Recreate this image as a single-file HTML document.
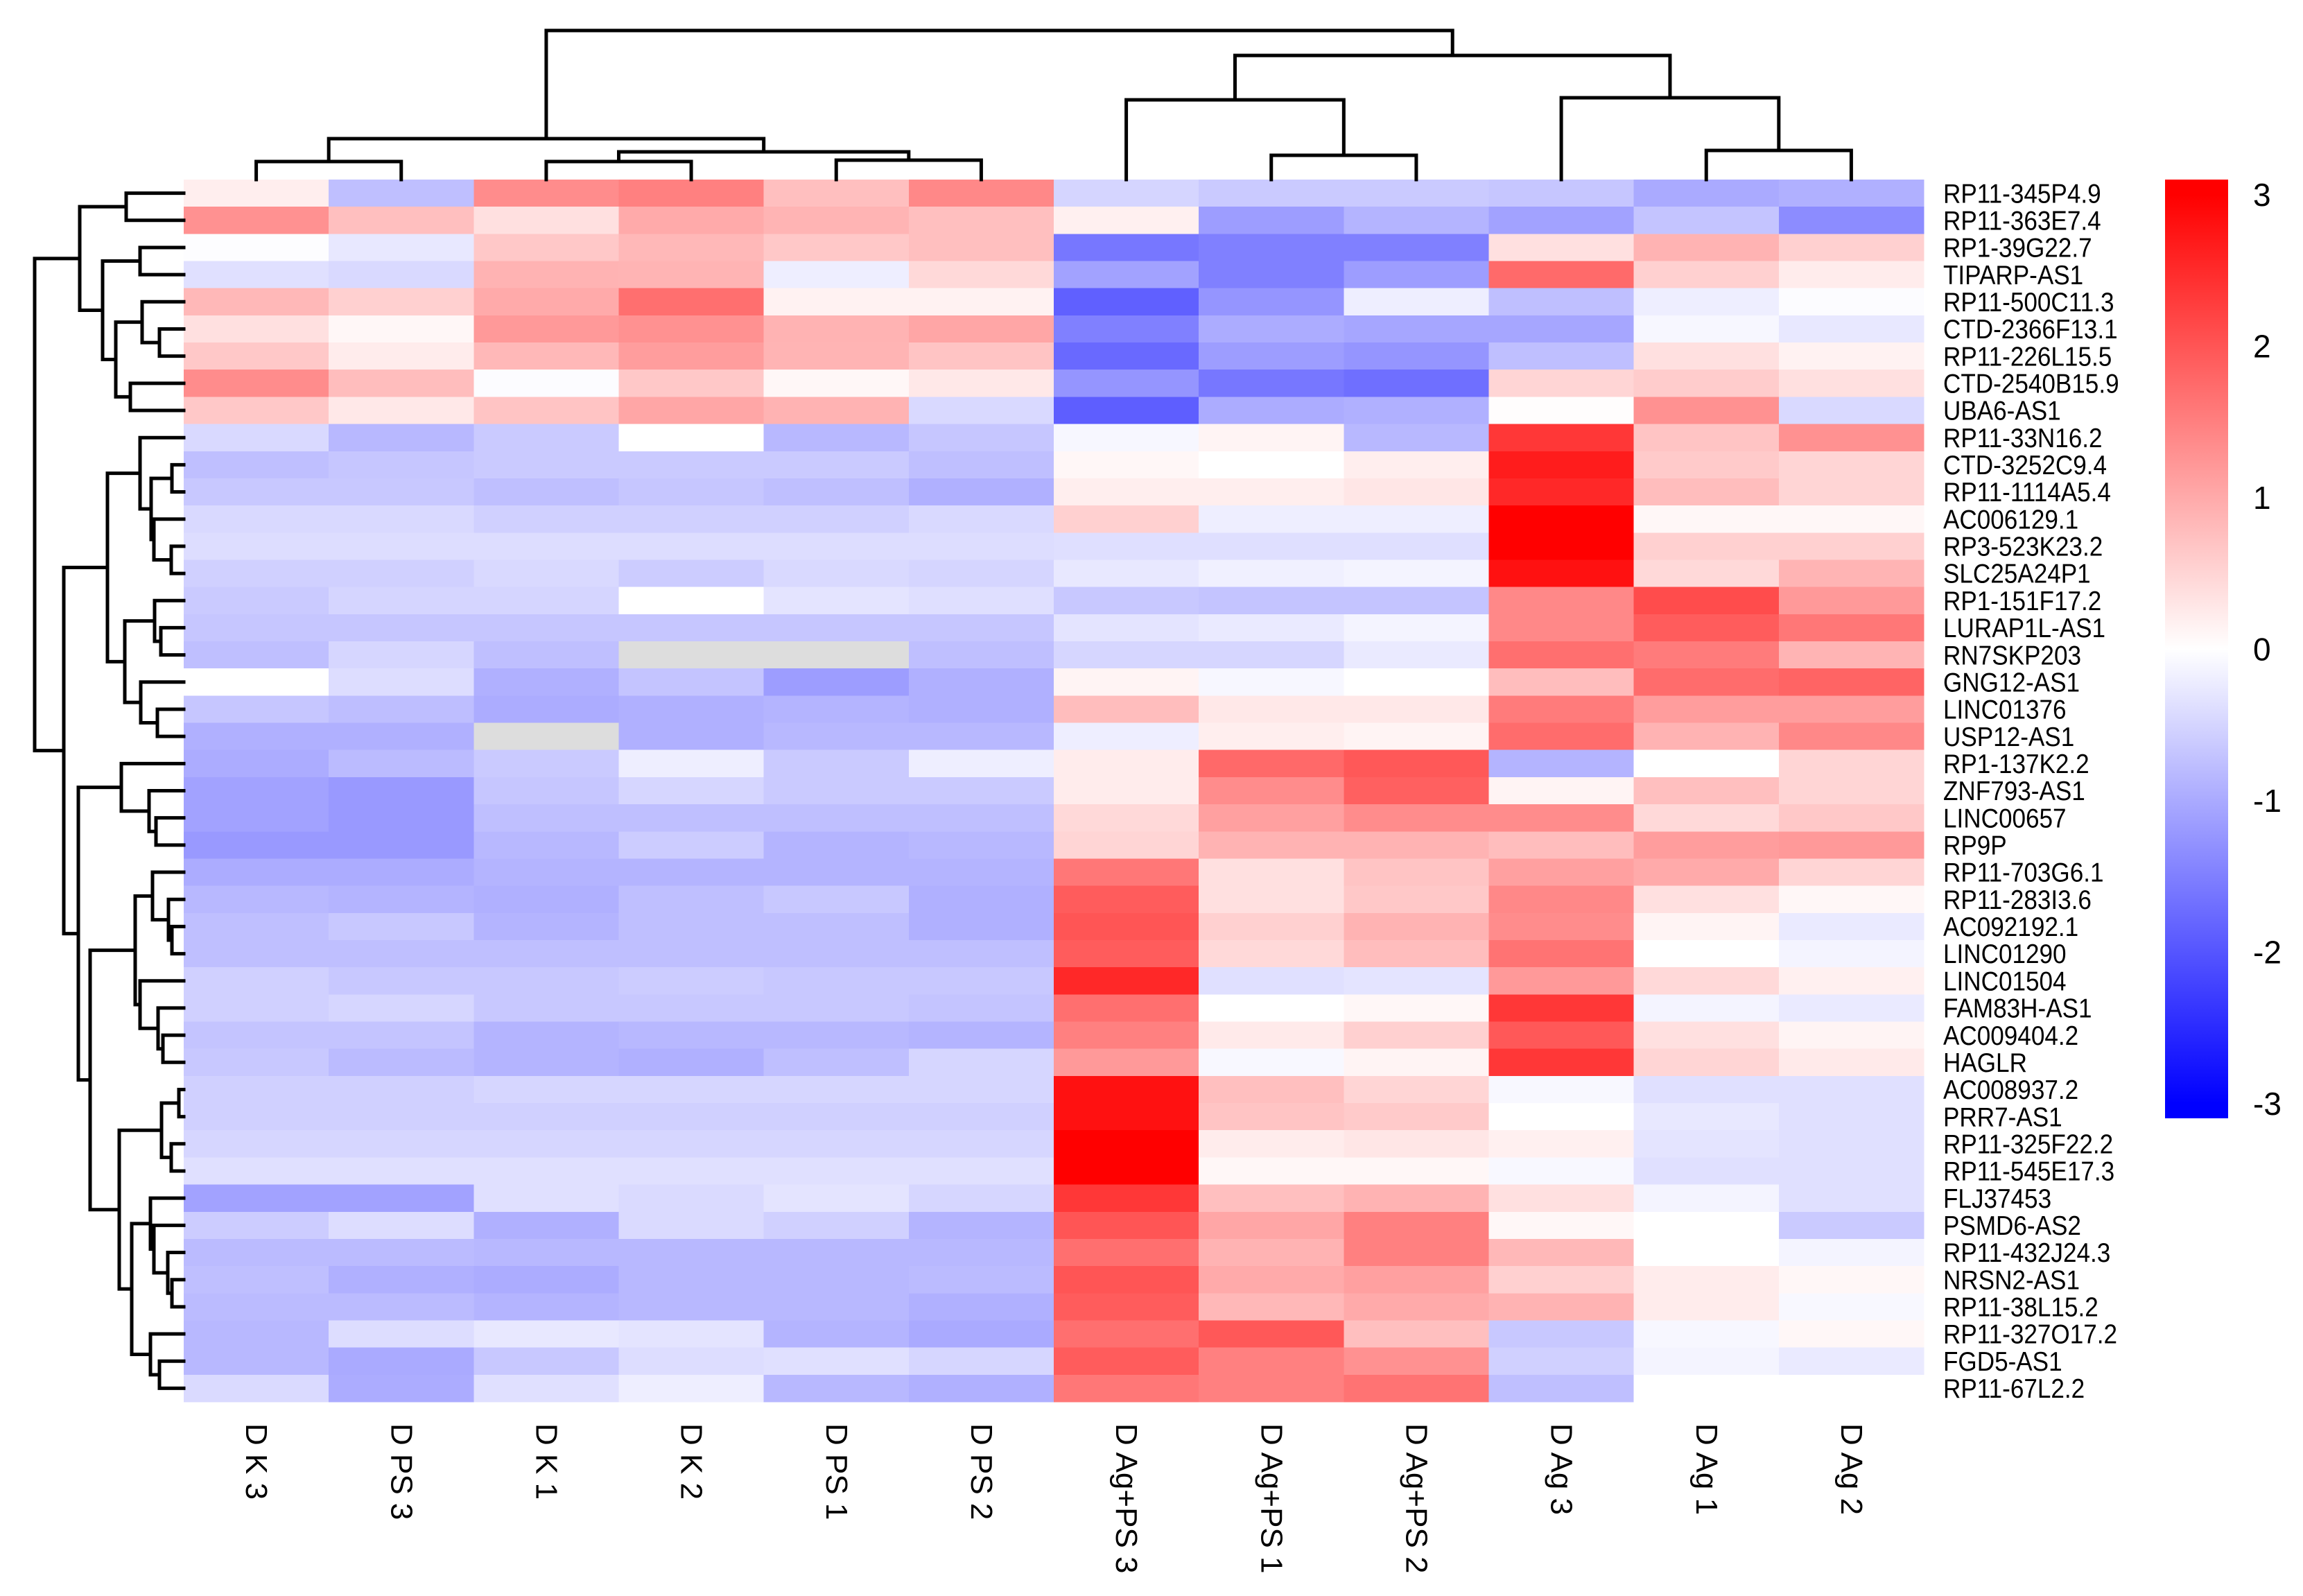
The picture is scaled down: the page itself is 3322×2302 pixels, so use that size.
<!DOCTYPE html>
<html><head><meta charset="utf-8"><style>
html,body{margin:0;padding:0;background:#fff;}
svg{display:block;font-family:"Liberation Sans",Arial,sans-serif;}
</style></head><body>
<svg id="chart" width="3322" height="2302" viewBox="0 0 3322 2302" xmlns="http://www.w3.org/2000/svg">
<defs>
<linearGradient id="lg" gradientUnits="userSpaceOnUse" x1="0" y1="281" x2="0" y2="1592">
<stop offset="0" stop-color="#ff0000"/><stop offset="0.5" stop-color="#ffffff"/><stop offset="1" stop-color="#0000ff"/>
</linearGradient>
</defs>
<g id="cells" shape-rendering="crispEdges"></g>
<g id="rowdend" stroke="#000" stroke-width="5" fill="none" stroke-linecap="square"></g>
<g id="coldend" stroke="#000" stroke-width="5" fill="none" stroke-linecap="square"></g>
<g id="rowlabels" font-size="39" fill="#000"></g>
<g id="collabels" font-size="44" fill="#000"></g>
<g id="legend">
<rect x="3123" y="259" width="91" height="1354" fill="url(#lg)"/>
</g>
</svg>
<script>
const rowNames = ["RP11-345P4.9","RP11-363E7.4","RP1-39G22.7","TIPARP-AS1","RP11-500C11.3","CTD-2366F13.1","RP11-226L15.5","CTD-2540B15.9","UBA6-AS1","RP11-33N16.2","CTD-3252C9.4","RP11-1114A5.4","AC006129.1","RP3-523K23.2","SLC25A24P1","RP1-151F17.2","LURAP1L-AS1","RN7SKP203","GNG12-AS1","LINC01376","USP12-AS1","RP1-137K2.2","ZNF793-AS1","LINC00657","RP9P","RP11-703G6.1","RP11-283I3.6","AC092192.1","LINC01290","LINC01504","FAM83H-AS1","AC009404.2","HAGLR","AC008937.2","PRR7-AS1","RP11-325F22.2","RP11-545E17.3","FLJ37453","PSMD6-AS2","RP11-432J24.3","NRSN2-AS1","RP11-38L15.2","RP11-327O17.2","FGD5-AS1","RP11-67L2.2"];
const colNames = ["D K 3","D PS 3","D K 1","D K 2","D PS 1","D PS 2","D Ag+PS 3","D Ag+PS 1","D Ag+PS 2","D Ag 3","D Ag 1","D Ag 2"];
const values = [
[0.2,-0.75,1.35,1.5,0.75,1.4,-0.5,-0.62,-0.62,-0.67,-1.0,-0.93],
[1.3,0.75,0.37,1.0,0.88,0.75,0.18,-1.15,-0.88,-1.1,-0.7,-1.35],
[-0.02,-0.27,0.65,0.83,0.65,0.75,-1.6,-1.5,-1.5,0.37,0.9,0.55],
[-0.37,-0.45,0.9,0.88,-0.2,0.45,-1.1,-1.5,-1.15,1.75,0.55,0.22],
[0.83,0.55,1.0,1.7,0.15,0.15,-1.87,-1.25,-0.2,-0.75,-0.2,-0.03],
[0.37,0.1,1.2,1.3,0.9,1.05,-1.5,-0.98,-1.05,-1.05,-0.1,-0.27],
[0.65,0.22,0.83,1.15,0.88,0.7,-1.77,-1.15,-1.25,-0.75,0.37,0.15],
[1.35,0.78,-0.03,0.65,0.1,0.27,-1.25,-1.6,-1.7,0.5,0.6,0.37],
[0.65,0.27,0.7,1.05,0.9,-0.45,-1.9,-0.98,-0.93,0.02,1.3,-0.45],
[-0.45,-0.83,-0.62,0,-0.83,-0.67,-0.1,0.13,-0.83,2.35,0.7,1.3],
[-0.75,-0.67,-0.62,-0.62,-0.62,-0.75,0.1,0.0,0.2,2.67,0.62,0.5],
[-0.65,-0.65,-0.75,-0.67,-0.75,-0.93,0.2,0.2,0.3,2.53,0.78,0.5],
[-0.45,-0.45,-0.55,-0.55,-0.55,-0.45,0.55,-0.2,-0.2,3,0.1,0.1],
[-0.4,-0.4,-0.4,-0.4,-0.4,-0.4,-0.38,-0.38,-0.38,3,0.55,0.55],
[-0.55,-0.55,-0.45,-0.6,-0.45,-0.5,-0.27,-0.18,-0.13,2.8,0.45,0.88],
[-0.62,-0.5,-0.5,0,-0.32,-0.38,-0.65,-0.7,-0.7,1.4,2.1,1.2],
[-0.67,-0.67,-0.67,-0.67,-0.67,-0.67,-0.32,-0.25,-0.13,1.4,1.92,1.6],
[-0.75,-0.48,-0.75,null,null,-0.75,-0.48,-0.48,-0.25,1.7,1.55,0.88],
[0,-0.4,-0.93,-0.7,-1.15,-0.93,0.13,-0.1,0,0.78,1.73,1.82],
[-0.67,-0.77,-0.98,-0.93,-0.88,-0.93,0.78,0.27,0.27,1.55,1.15,1.15],
[-0.93,-0.93,null,-0.93,-0.83,-0.83,-0.2,0.2,0.13,1.73,0.9,1.4],
[-0.98,-0.8,-0.62,-0.2,-0.62,-0.2,0.22,1.77,1.96,-0.88,0,0.5],
[-1.1,-1.2,-0.67,-0.48,-0.62,-0.62,0.22,1.35,1.87,0.13,0.75,0.5],
[-1.1,-1.2,-0.75,-0.75,-0.75,-0.75,0.45,1.12,1.35,1.35,0.45,0.65],
[-1.2,-1.2,-0.83,-0.6,-0.88,-0.83,0.5,0.9,0.9,0.78,1.15,1.2],
[-0.98,-0.98,-0.88,-0.88,-0.88,-0.88,1.6,0.37,0.7,1.12,1.0,0.5],
[-0.83,-0.88,-0.93,-0.75,-0.65,-0.93,1.92,0.37,0.65,1.4,0.37,0.1],
[-0.75,-0.65,-0.88,-0.75,-0.75,-0.93,2.0,0.55,0.9,1.35,0.13,-0.25],
[-0.75,-0.75,-0.75,-0.75,-0.75,-0.75,1.92,0.45,0.78,1.65,0,-0.13],
[-0.55,-0.65,-0.65,-0.6,-0.65,-0.65,2.53,-0.37,-0.32,1.2,0.45,0.18],
[-0.55,-0.48,-0.65,-0.65,-0.65,-0.7,1.7,0,0.1,2.35,-0.13,-0.25],
[-0.7,-0.7,-0.88,-0.83,-0.83,-0.88,1.5,0.25,0.55,1.96,0.37,0.13],
[-0.65,-0.8,-0.88,-0.93,-0.75,-0.48,1.2,-0.08,0.13,2.35,0.5,0.25],
[-0.55,-0.55,-0.48,-0.48,-0.48,-0.48,2.8,0.75,0.5,-0.08,-0.37,-0.37],
[-0.55,-0.55,-0.55,-0.55,-0.55,-0.55,2.8,0.7,0.62,0,-0.27,-0.37],
[-0.48,-0.48,-0.48,-0.48,-0.48,-0.48,3,0.22,0.3,0.18,-0.32,-0.37],
[-0.37,-0.37,-0.37,-0.37,-0.37,-0.37,3,0.1,0.1,-0.08,-0.37,-0.37],
[-1.1,-1.1,-0.37,-0.43,-0.32,-0.48,2.35,0.75,0.9,0.37,-0.13,-0.37],
[-0.6,-0.4,-0.93,-0.43,-0.55,-0.88,2.0,1.05,1.5,0.1,0,-0.62],
[-0.8,-0.8,-0.83,-0.83,-0.83,-0.83,1.7,0.9,1.5,0.83,0,-0.13],
[-0.75,-0.93,-0.98,-0.83,-0.83,-0.8,2.0,1.0,1.12,0.55,0.22,0.1],
[-0.8,-0.8,-0.88,-0.83,-0.83,-0.93,1.92,0.83,1.0,0.9,0.22,-0.08],
[-0.83,-0.4,-0.27,-0.32,-0.88,-1.0,1.7,1.96,0.75,-0.65,-0.1,0.1],
[-0.83,-1.0,-0.65,-0.4,-0.37,-0.48,1.92,1.5,1.3,-0.55,-0.13,-0.25],
[-0.43,-0.98,-0.37,-0.2,-0.83,-0.93,1.6,1.5,1.65,-0.75,0,0]
];
const legendTicks = [3,2,1,0,-1,-2,-3];
// dendrogram merge structures: [mergeLevel, left, right]; leaves are indices
const colTree = [44,[200,[233,0,1],[219,[233,2,3],[231,4,5]]],[80,[144,6,[224,7,8]],[141,9,[217,10,11]]]];
const rowTree = [50,
  [115,[182,0,1],[148,[202,2,3],[167,[205,4,[230,5,6]],[188,7,8]]]],
  [92,
    [155,[202,9,[218,[248,10,11],[222,12,[247,13,14]]]],[180,[223,15,[232,16,17]],[203,18,[227,19,20]]]],
    [113,[175,21,[215,22,[225,23,24]]],
      [130,[195,[220,25,[243,26,[248,27,28]]],[202,29,[228,30,[235,31,32]]]],
           [172,[233,[258,33,34],[247,35,36]],[190,[217,37,[222,38,[242,39,[248,40,41]]]],[217,42,[230,43,44]]]]]]]];

const NS = "http://www.w3.org/2000/svg";
const X0 = 265, X1 = 2775, Y0 = 259, Y1 = 2022;
const cw = (X1 - X0) / colNames.length, rh = (Y1 - Y0) / rowNames.length;
const xCol = i => X0 + i * cw;
const yRow = i => Y0 + i * rh;
const legY = v => 936.5 - v * 218.5;
function color(v){
  if (v === null) return "#dddddd";
  v = Math.max(-3, Math.min(3, v));
  if (v >= 0){ const c = Math.round(255*(1-v/3)); return `rgb(255,${c},${c})`; }
  const c = Math.round(255*(1+v/3)); return `rgb(${c},${c},255)`;
}
function mk(tag, attrs, parent){
  const e = document.createElementNS(NS, tag);
  for (const k in attrs) e.setAttribute(k, attrs[k]);
  parent.appendChild(e); return e;
}
const cells = document.getElementById("cells");
values.forEach((row, r) => row.forEach((v, c) => {
  const e = mk("rect", {x: xCol(c), y: yRow(r), width: cw+0.6, height: rh+0.6, fill: color(v)}, cells);
  
  
}));
const rl = document.getElementById("rowlabels");
rowNames.forEach((n, i) => {
  const t = mk("text", {transform: `translate(2803,${yRow(i)+rh/2}) scale(0.9,1)`, "dominant-baseline": "central"}, rl);
  t.textContent = n;
  
  
});
const cl = document.getElementById("collabels");
colNames.forEach((n, i) => {
  const t = mk("text", {transform: `translate(${xCol(i)+cw/2},2053) rotate(90)`, "dominant-baseline": "central"}, cl);
  t.textContent = n;
  
  
});
const lg = document.getElementById("legend");
legendTicks.forEach(v => {
  const t = mk("text", {x: 3250, y: legY(v), "font-size": 46, "dominant-baseline": "central"}, lg);
  t.textContent = String(v);
  
  
});
// column dendrogram
const cd = document.getElementById("coldend");
function drawCol(node){
  if (typeof node === "number") return {x: xCol(node)+cw/2, y: Y0};
  const a = drawCol(node[1]), b = drawCol(node[2]), h = node[0];
  const p = mk("path", {d: `M${a.x},${a.y}V${h}H${b.x}V${b.y}`}, cd);
  
  
  return {x: (a.x+b.x)/2, y: h};
}
drawCol(colTree);
const rd = document.getElementById("rowdend");
function drawRow(node){
  if (typeof node === "number") return {x: X0, y: yRow(node)+rh/2};
  const a = drawRow(node[1]), b = drawRow(node[2]), h = node[0];
  const p = mk("path", {d: `M${a.x},${a.y}H${h}V${b.y}H${b.x}`}, rd);
  
  
  return {x: h, y: (a.y+b.y)/2};
}
drawRow(rowTree);
</script>
</body></html>
